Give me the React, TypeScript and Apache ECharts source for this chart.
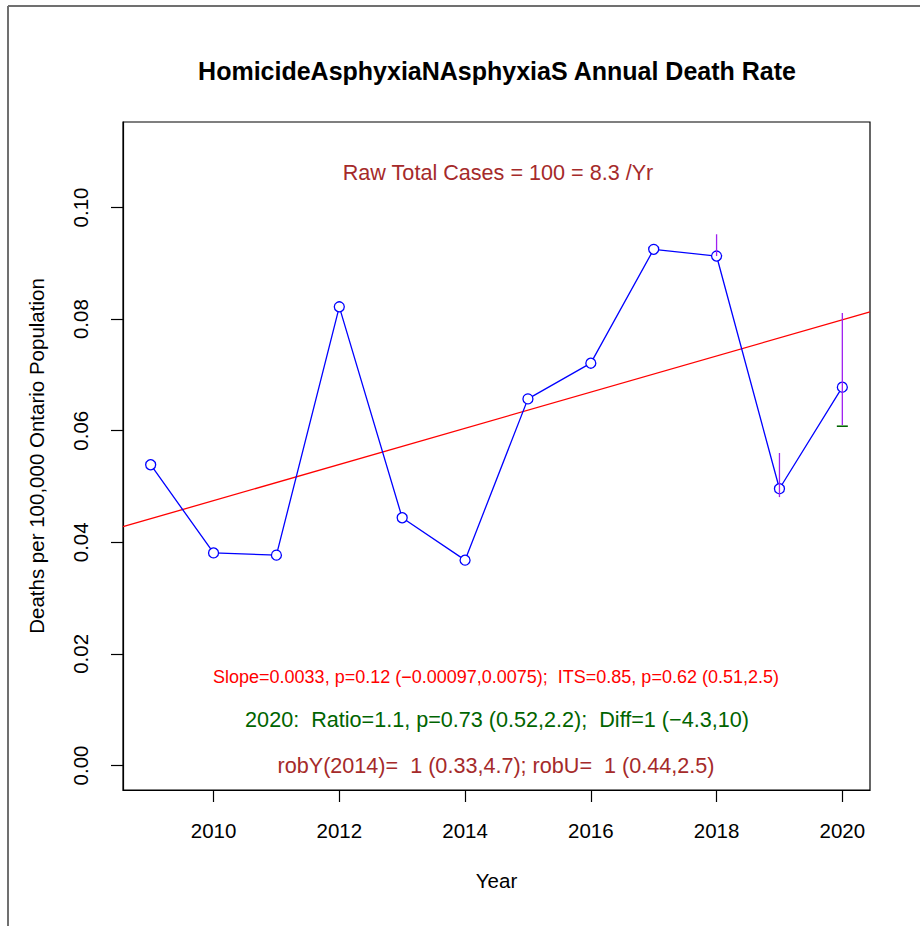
import React, { useEffect, useRef } from "react";
import * as echarts from "echarts";

const years = [2009, 2010, 2011, 2012, 2013, 2014, 2015, 2016, 2017, 2018, 2019, 2020];
const rates = [0.0539, 0.0381, 0.0377, 0.0822, 0.0444, 0.0368, 0.0657, 0.0721, 0.0925, 0.0913, 0.0496, 0.0678];

const trendYears = [2008.56, 2020.44];
const trendValues = [0.0428, 0.0813];

const errYears = [2018, 2019, 2020];
const errLow = [0.0913, 0.0481, 0.061];
const errHigh = [0.0952, 0.056, 0.0811];

const refYear = 2020;
const refValue = 0.0608;

const xTicks = [2010, 2012, 2014, 2016, 2018, 2020];
const yTicks = [0, 0.02, 0.04, 0.06, 0.08, 0.1];

const titleText = "HomicideAsphyxiaNAsphyxiaS Annual Death Rate";
const rawText = "Raw Total Cases = 100 = 8.3 /Yr";
const slopeText = "Slope=0.0033, p=0.12 (\u22120.00097,0.0075);  ITS=0.85, p=0.62 (0.51,2.5)";
const ratioText = "2020:  Ratio=1.1, p=0.73 (0.52,2.2);  Diff=1 (\u22124.3,10)";
const robText = "robY(2014)=  1 (0.33,4.7); robU=  1 (0.44,2.5)";

const FONT = "'Liberation Sans', Arial, Helvetica, sans-serif";

export default function App() {
  const ref = useRef<HTMLDivElement>(null);
  useEffect(() => {
    if (!ref.current) return;
    const chart = echarts.init(ref.current, null, { renderer: "svg" });
    const option: any = {
      animation: false,
      backgroundColor: "#ffffff",
      textStyle: { fontFamily: FONT },
      grid: {
        left: 123,
        top: 122,
        width: 747,
        height: 668,
        show: true,
        borderColor: "#000",
        borderWidth: 1.2,
        backgroundColor: "transparent",
      },
      xAxis: {
        type: "value",
        min: 2008.56,
        max: 2020.44,
        name: "Year",
        nameLocation: "middle",
        nameGap: 80,
        nameTextStyle: { fontFamily: FONT, fontSize: 20.5, color: "#000" },
        axisLine: { show: true, onZero: false, lineStyle: { color: "#000", width: 1.2 } },
        axisTick: { show: true, length: 12, customValues: xTicks, lineStyle: { color: "#000", width: 1.2 } },
        axisLabel: {
          customValues: xTicks,
          margin: 30,
          fontFamily: FONT,
          fontSize: 20.5,
          color: "#000",
          formatter: (v: number) => String(Math.round(v)),
        },
        splitLine: { show: false },
      },
      yAxis: {
        type: "value",
        min: -0.00439,
        max: 0.11532,
        name: "Deaths per 100,000 Ontario Population",
        nameLocation: "middle",
        nameGap: 76,
        nameRotate: 90,
        nameTextStyle: { fontFamily: FONT, fontSize: 20.5, color: "#000" },
        axisLine: { show: true, onZero: false, lineStyle: { color: "#000", width: 1.2 } },
        axisTick: { show: true, length: 12, customValues: yTicks, lineStyle: { color: "#000", width: 1.2 } },
        axisLabel: {
          customValues: yTicks,
          rotate: 90,
          margin: 32,
          fontFamily: FONT,
          fontSize: 20.5,
          color: "#000",
          formatter: (v: number) => v.toFixed(2),
        },
        splitLine: { show: false },
      },
      series: [
        {
          type: "line",
          data: trendYears.map((y, i) => [y, trendValues[i]]),
          symbol: "none",
          lineStyle: { color: "#ff0000", width: 1.3 },
          z: 2,
        },
        {
          type: "line",
          data: years.map((y, i) => [y, rates[i]]),
          symbol: "circle",
          symbolSize: 10,
          itemStyle: { color: "#ffffff", borderColor: "#0000ff", borderWidth: 1.3 },
          lineStyle: { color: "#0000ff", width: 1.3 },
          z: 3,
        },
        {
          type: "custom",
          data: errYears.map((y, i) => [y, errLow[i], errHigh[i]]),
          renderItem: (params: any, api: any) => {
            const x = api.value(0);
            const p1 = api.coord([x, api.value(1)]);
            const p2 = api.coord([x, api.value(2)]);
            return {
              type: "line",
              shape: { x1: p1[0], y1: p1[1], x2: p2[0], y2: p2[1] },
              style: { stroke: "#A020F0", lineWidth: 1.3 },
            };
          },
          z: 4,
        },
        {
          type: "custom",
          data: [[refYear, refValue]],
          renderItem: (params: any, api: any) => {
            const p = api.coord([api.value(0), api.value(1)]);
            return {
              type: "line",
              shape: { x1: p[0] - 5.5, y1: p[1], x2: p[0] + 5.5, y2: p[1] },
              style: { stroke: "#006400", lineWidth: 1.6 },
            };
          },
          z: 5,
        },
      ],
      graphic: [
        {
          type: "line",
          shape: { x1: 8, y1: 6, x2: 920, y2: 6 },
          style: { stroke: "#707070", lineWidth: 2 },
        },
        {
          type: "line",
          shape: { x1: 8, y1: 6, x2: 8, y2: 926 },
          style: { stroke: "#707070", lineWidth: 2 },
        },
        {
          type: "text",
          x: 497,
          y: 71,
          style: { text: titleText, fontFamily: FONT, fontSize: 25, fontWeight: "bold", fill: "#000", align: "center", verticalAlign: "middle" },
        },
        {
          type: "text",
          x: 498,
          y: 172,
          style: { text: rawText, fontFamily: FONT, fontSize: 21.6, fill: "#A52A2A", align: "center", verticalAlign: "middle" },
        },
        {
          type: "text",
          x: 496,
          y: 677,
          style: { text: slopeText, fontFamily: FONT, fontSize: 18, fill: "#ff0000", align: "center", verticalAlign: "middle" },
        },
        {
          type: "text",
          x: 497,
          y: 719,
          style: { text: ratioText, fontFamily: FONT, fontSize: 21.6, fill: "#006400", align: "center", verticalAlign: "middle" },
        },
        {
          type: "text",
          x: 496,
          y: 765,
          style: { text: robText, fontFamily: FONT, fontSize: 21.6, fill: "#A52A2A", align: "center", verticalAlign: "middle" },
        },
      ],
    };
    chart.setOption(option);
    return () => chart.dispose();
  }, []);
  return (
    <div
      ref={ref}
      style={{ position: "fixed", left: 0, top: 0, width: 920, height: 926 }}
    />
  );
}
